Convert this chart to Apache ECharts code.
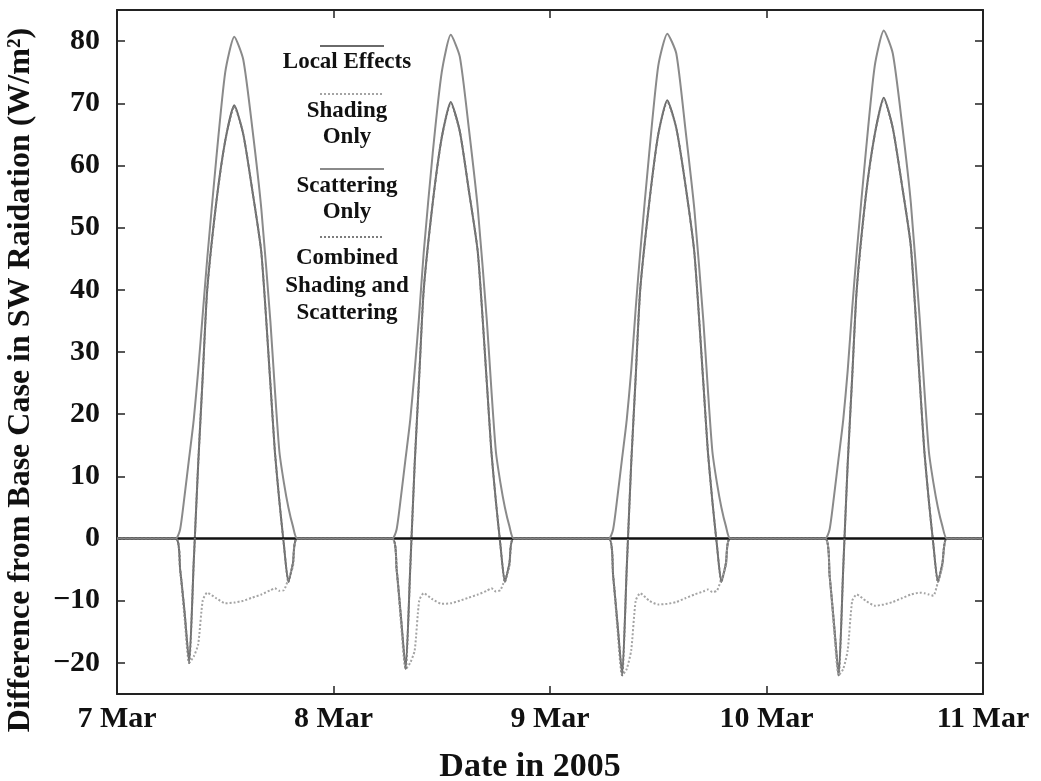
<!DOCTYPE html>
<html>
<head>
<meta charset="utf-8">
<title>SW radiation difference</title>
<script src="https://cdn.jsdelivr.net/npm/echarts@6/dist/echarts.min.js"></script>
<style>
html, body { margin: 0; padding: 0; background: #fff; }
#main { width: 1041px; height: 781px; }
</style>
</head>
<body>
<div id="main"></div>
<script>
// hours of each day that carry daytime values (night is 0)
var hourOfDay = [6.5, 7, 7.5, 8, 8.5, 9, 9.5, 10, 11, 12, 13, 14, 15, 16, 17, 17.5, 18, 18.5, 19, 19.5, 20];
var dayStart = [0, 24, 48, 72];
var tickLabels = ['7 Mar', '8 Mar', '9 Mar', '10 Mar', '11 Mar'];
var yTicks = [-20, -10, 0, 10, 20, 30, 40, 50, 60, 70, 80];
var seriesNames = ['Local Effects', 'Shading Only', 'Scattering Only', 'Combined Shading and Scattering'];

// one row per day, values in W/m2
var localEffects = [
    [0, -5, -12, -20, -4, 12, 26, 40, 54, 64, 69.7, 65, 56, 46, 25, 14, 6, -1, -7, -4, 0],
    [0, -5, -13, -21, -5, 12, 26, 40, 54, 64.5, 70.2, 65.5, 56, 46, 25, 14, 6, -1, -7, -4, 0],
    [0, -6, -14, -22, -5, 12, 26, 40, 54, 65, 70.5, 66, 57, 46, 25, 14, 6, -1, -7, -4, 0],
    [0, -6, -14, -22, -5, 12, 26, 40, 55, 65, 70.9, 66, 57, 47, 25, 14, 6, -1, -7, -4, 0]
];
var shadingOnly = [
    [0, -5, -13, -20, -19, -17, -10, -8.7, -9.6, -10.4, -10.3, -10, -9.5, -9, -8.3, -8, -8.4, -8.3, -6.5, -4.5, 0],
    [0, -5, -14, -21, -20, -18, -10, -8.8, -9.8, -10.5, -10.4, -10, -9.5, -9, -8.4, -8, -8.5, -8.3, -6.5, -4.5, 0],
    [0, -6, -15, -22, -21, -18, -10, -8.8, -10, -10.6, -10.5, -10.2, -9.6, -9, -8.5, -8.2, -8.6, -8.4, -6.5, -4.5, 0],
    [0, -6, -15, -22, -21, -18, -10, -9, -10, -10.8, -10.6, -10.2, -9.6, -9, -8.7, -8.8, -9, -9.2, -7, -4.5, 0]
];
var scatteringOnly = [
    [0, 1.5, 7, 13, 19, 27, 36, 45, 61, 75, 80.7, 77, 66, 53, 35, 24, 14, 9, 5, 2, 0],
    [0, 1.5, 7, 13, 19, 27, 36, 46, 62, 75, 81, 77.5, 66, 53, 35, 24, 14, 9, 5, 2, 0],
    [0, 1.5, 7, 13, 19, 27, 37, 46, 62, 76, 81.2, 78, 66, 53, 35, 24, 14, 9, 5, 2, 0],
    [0, 1.5, 7, 13, 19, 27, 37, 46, 62, 76, 81.7, 78, 67, 54, 35, 24, 14, 9, 5, 2, 0]
];
var combined = [
    [0, -5, -12, -20, -4, 12, 26, 40, 54, 64, 69.5, 65, 56, 46, 25, 14, 6, -1, -7, -4, 0],
    [0, -5, -13, -21, -5, 12, 26, 40, 54, 64.5, 70, 65.5, 56, 46, 25, 14, 6, -1, -7, -4, 0],
    [0, -6, -14, -22, -5, 12, 26, 40, 54, 65, 70.3, 66, 57, 46, 25, 14, 6, -1, -7, -4, 0],
    [0, -6, -14, -22, -5, 12, 26, 40, 55, 65, 70.7, 66, 57, 47, 25, 14, 6, -1, -7, -4, 0]
];

var serifFont = '"Liberation Serif", "Times New Roman", serif';

// turn day rows into [hour since 7 Mar 00:00, value] pairs
function toPoints(days) {
    var pts = [[0, 0]];
    for (var d = 0; d < days.length; d++) {
        for (var i = 0; i < hourOfDay.length; i++) {
            pts.push([dayStart[d] + hourOfDay[i], days[d][i]]);
        }
    }
    pts.push([96, 0]);
    return pts;
}

var chart = echarts.init(document.getElementById('main'));

var lineStyles = [
    { color: '#6a6a6a', width: 2, type: 'solid' },
    { color: '#a4a4a4', width: 2, type: 'dotted' },
    { color: '#8a8a8a', width: 2, type: 'solid' },
    { color: '#7c7c7c', width: 2, type: 'dotted' }
];
var seriesData = [localEffects, shadingOnly, scatteringOnly, combined];

var series = [];
for (var s = 0; s < seriesNames.length; s++) {
    series.push({
        name: seriesNames[s],
        type: 'line',
        data: toPoints(seriesData[s]),
        symbol: 'none',
        smooth: 0.2,
        color: lineStyles[s].color,
        lineStyle: lineStyles[s],
        z: 3 + s
    });
}
// zero reference line
series[0].markLine = {
    silent: true,
    symbol: ['none', 'none'],
    label: { show: false },
    lineStyle: { color: '#111', width: 2.5, type: 'solid' },
    data: [{ yAxis: 0 }]
};

// legend: line sample above centred text
var legendLineY = [41, 89, 164, 232];
var legendText = [
    { text: 'Local Effects', y: 62 },
    { text: 'Shading', y: 111 },
    { text: 'Only', y: 137 },
    { text: 'Scattering', y: 186 },
    { text: 'Only', y: 212 },
    { text: 'Combined', y: 258 },
    { text: 'Shading and', y: 286 },
    { text: 'Scattering', y: 313 }
];
var legends = seriesNames.map(function (n, i) {
    return {
        data: [n],
        left: 314,
        top: legendLineY[i] - 5,
        itemWidth: 64,
        itemHeight: 10,
        selectedMode: false,
        itemStyle: { opacity: 0 },
        formatter: function () { return ''; },
        textStyle: { fontSize: 1 }
    };
});
var graphics = legendText.map(function (t) {
    return {
        type: 'text',
        x: 347,
        y: t.y,
        style: {
            text: t.text,
            font: 'bold 23px ' + serifFont,
            fill: '#111',
            align: 'center',
            verticalAlign: 'middle'
        }
    };
});

var axisLineStyle = { color: '#222', width: 2 };

var option = {
    animation: false,
    backgroundColor: '#fff',
    grid: { left: 117, right: 58, top: 10, bottom: 87, outerBoundsMode: 'none' },
    legend: legends,
    graphic: graphics,
    xAxis: [{
        type: 'value',
        min: 0,
        max: 96,
        interval: 24,
        position: 'bottom',
        axisLine: { onZero: false, lineStyle: axisLineStyle },
        axisTick: { inside: true, length: 8, lineStyle: { color: '#222', width: 1.5 } },
        axisLabel: {
            formatter: function (v) { return tickLabels[Math.round(v / 24)]; },
            fontFamily: serifFont,
            fontWeight: 'bold',
            fontSize: 30,
            color: '#111',
            margin: 10
        },
        splitLine: { show: false },
        name: 'Date in 2005',
        nameLocation: 'middle',
        nameGap: 56,
        nameTextStyle: { fontFamily: serifFont, fontWeight: 'bold', fontSize: 34, color: '#111', padding: [0, 40, 0, 0] }
    }, {
        type: 'value',
        min: 0,
        max: 96,
        interval: 24,
        position: 'top',
        axisLine: { onZero: false, lineStyle: axisLineStyle },
        axisTick: { inside: true, length: 8, lineStyle: { color: '#222', width: 1.5 } },
        axisLabel: { show: false },
        splitLine: { show: false }
    }],
    yAxis: [{
        type: 'value',
        min: -25,
        max: 85,
        position: 'left',
        axisLine: { show: true, onZero: false, lineStyle: axisLineStyle },
        axisTick: { show: true, inside: true, length: 8, customValues: yTicks, lineStyle: { color: '#222', width: 1.5 } },
        axisLabel: {
            customValues: yTicks,
            formatter: function (v) { return v < 0 ? '\u2212' + (-v) : String(v); },
            fontFamily: serifFont,
            fontWeight: 'bold',
            fontSize: 30,
            color: '#111',
            margin: 17
        },
        splitLine: { show: false },
        name: 'Difference from Base Case in SW Raidation (W/m\u00b2)',
        nameLocation: 'middle',
        nameGap: 80,
        nameTextStyle: { fontFamily: serifFont, fontWeight: 'bold', fontSize: 32, color: '#111', padding: [0, 56, 0, 0] }
    }, {
        type: 'value',
        min: -25,
        max: 85,
        position: 'right',
        axisLine: { show: true, onZero: false, lineStyle: axisLineStyle },
        axisTick: { show: true, inside: true, length: 8, customValues: yTicks, lineStyle: { color: '#222', width: 1.5 } },
        axisLabel: { show: false },
        splitLine: { show: false }
    }],
    series: series
};

chart.setOption(option);
</script>
</body>
</html>
